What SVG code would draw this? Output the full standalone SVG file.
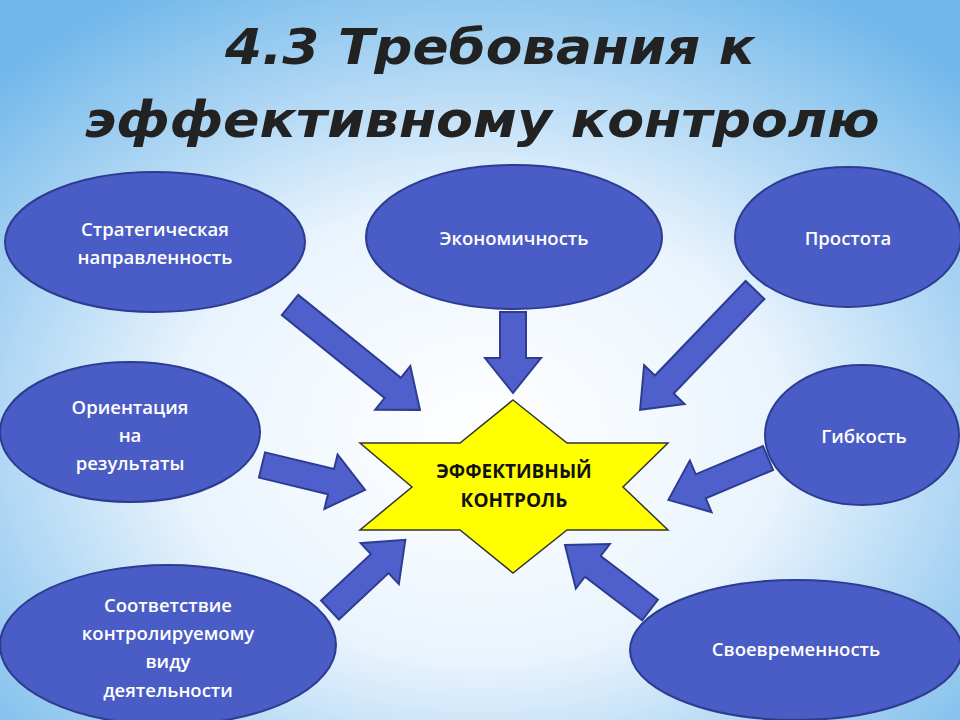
<svg xmlns="http://www.w3.org/2000/svg" width="960" height="720" viewBox="0 0 960 720">
<defs>
<radialGradient id="bg" cx="0.5" cy="0.6" r="0.7">
<stop offset="0" stop-color="#ffffff"/><stop offset="0.45" stop-color="#eaf4fd"/><stop offset="1" stop-color="#72b8ea"/>
</radialGradient>
<style>
.n{fill:#4a5cc6;stroke:#2d3c90;stroke-width:2}
.t{fill:#fff;font-family:"Open Sans","DejaVu Sans",sans-serif;font-size:18.5px;font-weight:600;text-anchor:middle}
.a{fill:#4f60cc;stroke:#2d3c90;stroke-width:2}
.h{font-family:"DejaVu Sans",sans-serif;font-size:50px;font-weight:bold;font-style:italic;text-anchor:middle;fill:#222}
</style>
</defs>
<rect width="960" height="720" fill="url(#bg)"/>
<text class="h" x="490" y="64" textLength="530" lengthAdjust="spacingAndGlyphs">4.3 Требования к</text>
<text class="h" x="482" y="137" textLength="795" lengthAdjust="spacingAndGlyphs">эффективному контролю</text>
<g id="connectors">
<polygon class="a" transform="translate(290,305) rotate(38.9)" points="0,-13 132,-13 132,-28 167,0 132,28 132,13 0,13"/>
<polygon class="a" transform="translate(513,312) rotate(90)" points="0,-13 46,-13 46,-28 81,0 46,28 46,13 0,13"/>
<polygon class="a" transform="translate(755,290) rotate(133.8)" points="0,-13 131,-13 131,-28 166,0 131,28 131,13 0,13"/>
<polygon class="a" transform="translate(262,465) rotate(13.6)" points="0,-13 71,-13 71,-28 106,0 71,28 71,13 0,13"/>
<polygon class="a" transform="translate(768,458) rotate(157.2)" points="0,-13 73,-13 73,-28 108,0 73,28 73,13 0,13"/>
<polygon class="a" transform="translate(330,610) rotate(-43)" points="0,-13 68,-13 68,-28 103,0 68,28 68,13 0,13"/>
<polygon class="a" transform="translate(650,610) rotate(-142.6)" points="0,-13 72,-13 72,-28 107,0 72,28 72,13 0,13"/>
</g>
<g id="center">
<polygon points="513,400 567,443 668,443 623,487 668,530 567,530 513,573 460,530 360,530 412,487 360,443 460,443" fill="#ffff00" stroke="#333" stroke-width="1.5"/>
<text x="514" y="478" font-family="'Open Sans','DejaVu Sans',sans-serif" font-size="19" font-weight="bold" text-anchor="middle" fill="#111">ЭФФЕКТИВНЫЙ</text>
<text x="514" y="507" font-family="'Open Sans','DejaVu Sans',sans-serif" font-size="19" font-weight="bold" text-anchor="middle" fill="#111">КОНТРОЛЬ</text>
</g>
<g id="n1"><ellipse class="n" cx="155" cy="242" rx="150" ry="70"/><text class="t" x="155" y="236">Стратегическая</text><text class="t" x="155" y="264">направленность</text></g>
<g id="n2"><ellipse class="n" cx="514" cy="237" rx="148" ry="72"/><text class="t" x="514" y="245">Экономичность</text></g>
<g id="n3"><ellipse class="n" cx="848" cy="237" rx="113" ry="70"/><text class="t" x="848" y="245">Простота</text></g>
<g id="n4"><ellipse class="n" cx="130" cy="432" rx="130" ry="70"/><text class="t" x="130" y="414">Ориентация</text><text class="t" x="130" y="442">на</text><text class="t" x="130" y="470">результаты</text></g>
<g id="n5"><ellipse class="n" cx="862" cy="435" rx="97" ry="70"/><text class="t" x="864" y="443">Гибкость</text></g>
<g id="n6"><ellipse class="n" cx="168" cy="645" rx="168" ry="80"/><text class="t" x="168" y="612">Соответствие</text><text class="t" x="168" y="640">контролируемому</text><text class="t" x="168" y="668">виду</text><text class="t" x="168" y="697">деятельности</text></g>
<g id="n7"><ellipse class="n" cx="796" cy="650" rx="166" ry="70"/><text class="t" x="796" y="656">Своевременность</text></g>
</svg>
